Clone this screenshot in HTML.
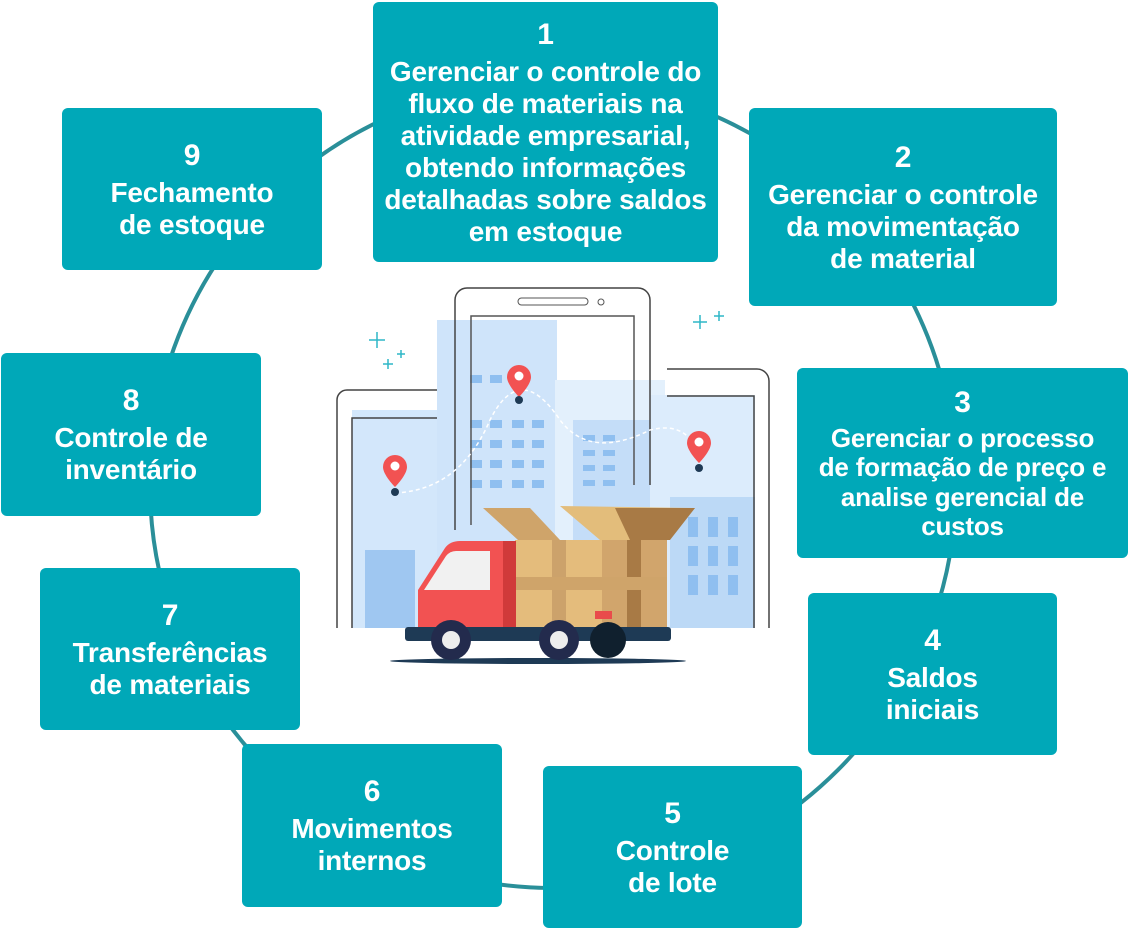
<!DOCTYPE html>
<html><head><meta charset="utf-8"><style>
body{margin:0;width:1128px;height:930px;background:#fff;position:relative;overflow:hidden;font-family:"Liberation Sans","DejaVu Sans",sans-serif}
.b{position:absolute;background:#00a8b8;border-radius:6px;color:#fff;font-weight:bold;text-align:center;display:flex;flex-direction:column;justify-content:center;align-items:center;font-size:28px;line-height:32px;letter-spacing:-0.2px}
.b .n{font-size:30px;line-height:36px;margin-bottom:3px}
svg{position:absolute;left:0;top:0}
</style></head><body>
<svg width="1128" height="930">
<circle cx="553" cy="485" r="403" fill="none" stroke="#2a8f99" stroke-width="4"/>
<g>
<rect x="352" y="410" width="100" height="218" fill="#d3e7fb"/>
<rect x="437" y="320" width="120" height="308" fill="#cfe4fa"/>
<rect x="555" y="380" width="110" height="248" fill="#e3f0fc"/>
<rect x="573" y="420" width="80" height="200" fill="#c4ddf8"/>
<rect x="650" y="395" width="105" height="233" fill="#dcecfc"/>
<rect x="670" y="497" width="85" height="131" fill="#bcd9f6"/>
<rect x="365" y="550" width="50" height="78" fill="#9fc7f1"/>
<g fill="#8fbff0">
<rect x="470" y="375" width="12" height="8"/><rect x="490" y="375" width="12" height="8"/>
<rect x="470" y="420" width="12" height="8"/><rect x="490" y="420" width="12" height="8"/><rect x="512" y="420" width="12" height="8"/><rect x="532" y="420" width="12" height="8"/>
<rect x="470" y="440" width="12" height="8"/><rect x="490" y="440" width="12" height="8"/><rect x="512" y="440" width="12" height="8"/><rect x="532" y="440" width="12" height="8"/>
<rect x="470" y="460" width="12" height="8"/><rect x="490" y="460" width="12" height="8"/><rect x="512" y="460" width="12" height="8"/><rect x="532" y="460" width="12" height="8"/>
<rect x="470" y="480" width="12" height="8"/><rect x="490" y="480" width="12" height="8"/><rect x="512" y="480" width="12" height="8"/><rect x="532" y="480" width="12" height="8"/>
<rect x="583" y="435" width="12" height="6"/><rect x="603" y="435" width="12" height="6"/><rect x="583" y="450" width="12" height="6"/><rect x="603" y="450" width="12" height="6"/>
<rect x="583" y="465" width="12" height="6"/><rect x="603" y="465" width="12" height="6"/><rect x="583" y="480" width="12" height="6"/><rect x="603" y="480" width="12" height="6"/>
<rect x="688" y="517" width="10" height="20"/><rect x="708" y="517" width="10" height="20"/><rect x="728" y="517" width="10" height="20"/>
<rect x="688" y="546" width="10" height="20"/><rect x="708" y="546" width="10" height="20"/><rect x="728" y="546" width="10" height="20"/>
<rect x="688" y="575" width="10" height="20"/><rect x="708" y="575" width="10" height="20"/><rect x="728" y="575" width="10" height="20"/>
</g>
<path d="M337,628 V400 a10,10 0 0 1 10,-10 H437" fill="none" stroke="#444" stroke-width="1.5"/>
<path d="M352,628 V418 H437" fill="none" stroke="#444" stroke-width="1.5"/>
<path d="M455,530 V300 a12,12 0 0 1 12,-12 H638 a12,12 0 0 1 12,12 V485" fill="none" stroke="#444" stroke-width="1.5"/>
<path d="M471,525 V316 H634 V485" fill="none" stroke="#555" stroke-width="1.5"/>
<rect x="518" y="298" width="70" height="7" rx="3.5" fill="none" stroke="#555"/>
<circle cx="601" cy="302" r="3" fill="none" stroke="#555"/>
<path d="M667,369 H757 a12,12 0 0 1 12,12 V628" fill="none" stroke="#444" stroke-width="1.5"/>
<path d="M667,396 H754 V628" fill="none" stroke="#444" stroke-width="1.5"/>
<path d="M395,493 Q460,490 490,420 Q520,360 560,420 Q590,460 650,430 Q690,420 700,460" fill="none" stroke="#fff" stroke-width="1.5" stroke-dasharray="4,3"/>
<g fill="#f25252"><path d="M519,365 a12,12 0 0 1 12,12 c0,8 -12,20 -12,20 c0,0 -12,-12 -12,-20 a12,12 0 0 1 12,-12z"/>
<path d="M395,455 a12,12 0 0 1 12,12 c0,8 -12,20 -12,20 c0,0 -12,-12 -12,-20 a12,12 0 0 1 12,-12z"/>
<path d="M699,431 a12,12 0 0 1 12,12 c0,8 -12,20 -12,20 c0,0 -12,-12 -12,-20 a12,12 0 0 1 12,-12z"/></g>
<g fill="#fff"><circle cx="519" cy="376" r="4.5"/><circle cx="395" cy="466" r="4.5"/><circle cx="699" cy="442" r="4.5"/></g>
<g fill="#1e3a55"><circle cx="519" cy="400" r="4"/><circle cx="395" cy="492" r="4"/><circle cx="699" cy="468" r="4"/></g>
<g stroke="#2fb7c7" stroke-width="1.5"><path d="M369,340 h16 M377,332 v16 M383,364 h10 M388,359 v10 M397,354 h8 M401,350 v8 M693,322 h14 M700,315 v14 M714,316 h10 M719,311 v10"/></g>
<polygon points="483,508 530,508 560,540 518,540" fill="#cfa46a"/>
<polygon points="560,506 695,508 668,540 600,540" fill="#e3bd7b"/>
<polygon points="615,508 695,508 670,540 630,540" fill="#a87a45"/>
<rect x="515" y="540" width="152" height="88" fill="#e4bc7c"/>
<rect x="602" y="540" width="65" height="88" fill="#d1a56c"/>
<rect x="552" y="540" width="14" height="88" fill="#cca26b"/>
<rect x="627" y="540" width="14" height="88" fill="#a87a45"/>
<rect x="515" y="577" width="152" height="13" fill="#cfa46a"/>
<rect x="595" y="611" width="17" height="8" fill="#e94b4b"/>
<path d="M418,628 V590 L445,548 Q450,541 460,541 H516 V628z" fill="#f25252"/>
<rect x="503" y="541" width="13" height="87" fill="#d03a3a"/>
<path d="M424,590 L446,556 Q450,551 456,551 H490 V590z" fill="#f1f1f1"/>
<rect x="405" y="627" width="266" height="14" rx="3" fill="#1e3a55"/>
<ellipse cx="538" cy="661" rx="148" ry="3" fill="#1e3a55"/>
<circle cx="451" cy="640" r="20" fill="#232b4d"/><circle cx="451" cy="640" r="9" fill="#eee"/>
<circle cx="559" cy="640" r="20" fill="#232b4d"/><circle cx="559" cy="640" r="9" fill="#eee"/>
<circle cx="608" cy="640" r="18" fill="#10202e"/>
</g>
</svg>
<div class="b" style="left:373px;top:2px;width:345px;height:260px"><div class="n">1</div>Gerenciar o controle do<br>fluxo de materiais na<br>atividade empresarial,<br>obtendo informações<br>detalhadas sobre saldos<br>em estoque</div>
<div class="b" style="left:749px;top:108px;width:308px;height:198px"><div class="n">2</div>Gerenciar o controle<br>da movimentação<br>de material</div>
<div class="b" style="left:797px;top:368px;width:331px;height:190px;font-size:26px;line-height:29.5px"><div class="n">3</div>Gerenciar o processo<br>de formação de preço e<br>analise gerencial de<br>custos</div>
<div class="b" style="left:808px;top:593px;width:249px;height:162px"><div class="n">4</div>Saldos<br>iniciais</div>
<div class="b" style="left:543px;top:766px;width:259px;height:162px"><div class="n">5</div>Controle<br>de lote</div>
<div class="b" style="left:242px;top:744px;width:260px;height:163px"><div class="n">6</div>Movimentos<br>internos</div>
<div class="b" style="left:40px;top:568px;width:260px;height:162px"><div class="n">7</div>Transferências<br>de materiais</div>
<div class="b" style="left:1px;top:353px;width:260px;height:163px"><div class="n">8</div>Controle de<br>inventário</div>
<div class="b" style="left:62px;top:108px;width:260px;height:162px"><div class="n">9</div>Fechamento<br>de estoque</div>
</body></html>
